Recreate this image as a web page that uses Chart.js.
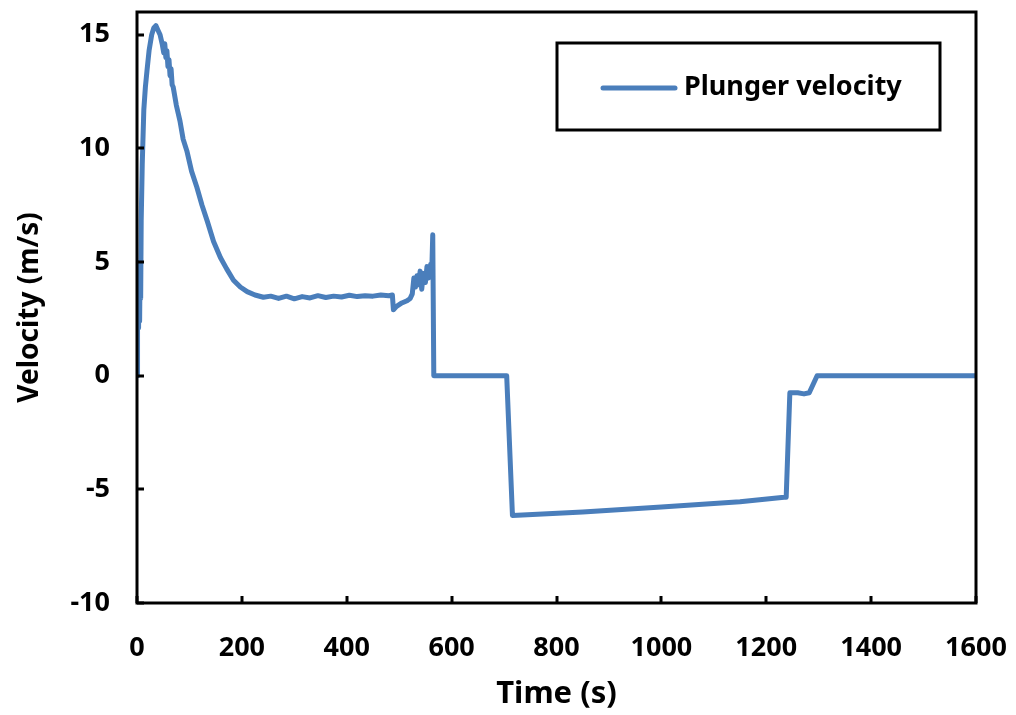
<!DOCTYPE html>
<html>
<head>
<meta charset="utf-8">
<script src="https://cdn.jsdelivr.net/npm/chart.js@4/dist/chart.umd.min.js"></script>
<style>
  html, body { margin: 0; padding: 0; background: #fff; }
  #wrap { width: 1016px; height: 715px; }
</style>
</head>
<body>
<div id="wrap"><canvas id="c" width="1016" height="715"></canvas></div>
<script>
// ---- Data ----
const seriesLabel = "Plunger velocity";
const timeS = [
  0, 1, 2, 3, 4, 5, 6, 7, 8, 10, 13, 16, 19, 23, 28, 32, 36, 40, 44, 48, 51, 53, 55, 57, 59, 61, 63, 65, 67, 69,
  75, 82, 88, 95, 104, 114, 124, 134, 146, 159, 171, 184, 197, 210, 225, 241,
  255, 270, 285, 300, 315, 330, 345, 360, 375, 390, 405, 420, 435, 450, 465, 480, 487,
  489, 495, 505, 515, 521, 525, 528, 531, 534, 537, 540, 543, 546, 550, 553, 556, 560, 562, 564, 566,
  600, 705, 716, 850, 1000, 1150, 1234, 1238, 1245, 1260, 1272, 1282, 1297, 1400, 1600
];
const velocity = [
  0, 2.6, 4.8, 2.1, 4.6, 2.4, 5.0, 3.4, 6.8, 9.3, 11.7, 12.7, 13.4, 14.3, 15.0, 15.3, 15.4, 15.2, 15.0, 14.6, 14.2, 14.6, 14.0, 14.3, 13.6, 13.9, 13.2, 13.5, 12.8, 12.7,
  11.9, 11.2, 10.4, 9.9, 9.0, 8.3, 7.5, 6.8, 5.9, 5.2, 4.7, 4.2, 3.9, 3.7, 3.55, 3.45,
  3.5, 3.4, 3.5, 3.38, 3.48, 3.42, 3.52, 3.44, 3.5, 3.46, 3.54, 3.48, 3.52, 3.5, 3.55, 3.52, 3.55,
  2.9, 3.05, 3.2, 3.3, 3.4, 3.6, 4.3, 3.9, 4.4, 4.0, 4.6, 3.8, 4.5, 4.1, 4.8, 4.3, 4.9, 4.5, 6.2, 0,
  0, 0, -6.15, -6.0, -5.78, -5.55, -5.35, -5.35, -0.75, -0.75, -0.8, -0.75, 0, 0, 0
];
const xTicks = [0, 200, 400, 600, 800, 1000, 1200, 1400, 1600];
const yTicks = [-10, -5, 0, 5, 10, 15];

const FONT = "'Noto Sans', 'Open Sans', sans-serif";
const LINE_COLOR = '#4a7ebb';

const points = timeS.map((t, i) => ({ x: t, y: velocity[i] }));

// Frame, inward ticks and legend box
const framePlugin = {
  id: 'frame',
  afterDraw(chart) {
    const { ctx, chartArea: a, scales } = chart;
    ctx.save();
    ctx.strokeStyle = '#000';
    ctx.lineWidth = 3;
    ctx.lineCap = 'butt';
    ctx.beginPath();
    xTicks.forEach(v => {
      const px = Math.round(scales.x.getPixelForValue(v));
      ctx.moveTo(px, a.bottom); ctx.lineTo(px, a.bottom - 7);
    });
    yTicks.forEach(v => {
      const py = Math.round(scales.y.getPixelForValue(v));
      ctx.moveTo(a.left, py); ctx.lineTo(a.left + 7, py);
    });
    ctx.stroke();
    ctx.strokeRect(a.left, a.top, a.right - a.left, a.bottom - a.top);

    // legend
    const lx = 557, ly = 43, lw = 383, lh = 87;
    ctx.fillStyle = '#fff';
    ctx.fillRect(lx, ly, lw, lh);
    ctx.strokeRect(lx, ly, lw, lh);
    const ds = chart.data.datasets[0];
    ctx.strokeStyle = ds.borderColor;
    ctx.lineWidth = 5;
    ctx.lineCap = 'round';
    ctx.beginPath();
    ctx.moveTo(603, 88); ctx.lineTo(675, 88);
    ctx.stroke();
    ctx.fillStyle = '#000';
    ctx.font = "bold 27px " + FONT;
    ctx.textBaseline = 'middle';
    ctx.textAlign = 'left';
    ctx.fillText(ds.label, 684, 87);
    ctx.restore();
  }
};

new Chart(document.getElementById('c'), {
  type: 'line',
  data: {
    datasets: [{
      label: seriesLabel,
      data: points,
      borderColor: LINE_COLOR,
      borderWidth: 5,
      pointRadius: 0,
      tension: 0,
      fill: false,
      borderJoinStyle: 'round',
      borderCapStyle: 'round'
    }]
  },
  options: {
    responsive: false,
    animation: false,
    layout: { padding: { top: 12, right: 40, left: 0, bottom: 0 } },
    plugins: { legend: { display: false }, tooltip: { enabled: false } },
    scales: {
      x: {
        type: 'linear',
        min: 0, max: 1600,
        afterBuildTicks: s => { s.ticks = xTicks.map(v => ({ value: v })); },
        afterFit: s => { s.height = 112; s.paddingLeft = 0; s.paddingRight = 0; },
        grid: { display: true, drawOnChartArea: false, drawTicks: false },
        border: { display: false },
        ticks: { color: '#000', padding: 29, maxRotation: 0, callback: v => String(v), font: { family: FONT, size: 27, weight: 'bold' } },
        title: { display: true, text: 'Time (s)', color: '#000', padding: { top: 0, bottom: 2 }, font: { family: FONT, size: 31, weight: 'bold' } }
      },
      y: {
        min: -10, max: 16,
        afterBuildTicks: s => { s.ticks = yTicks.map(v => ({ value: v })); },
        afterFit: s => { s.width = 137; s.paddingTop = 0; s.paddingBottom = 0; },
        grid: { display: true, drawOnChartArea: false, drawTicks: false },
        border: { display: false },
        ticks: { color: '#000', padding: 27, callback: v => String(v), font: { family: FONT, size: 27, weight: 'bold' } },
        title: { display: true, text: 'Velocity (m/s)', color: '#000', padding: { top: 13, bottom: 0 }, font: { family: FONT, size: 28, weight: 'bold' } }
      }
    }
  },
  plugins: [framePlugin]
});
</script>
</body>
</html>
